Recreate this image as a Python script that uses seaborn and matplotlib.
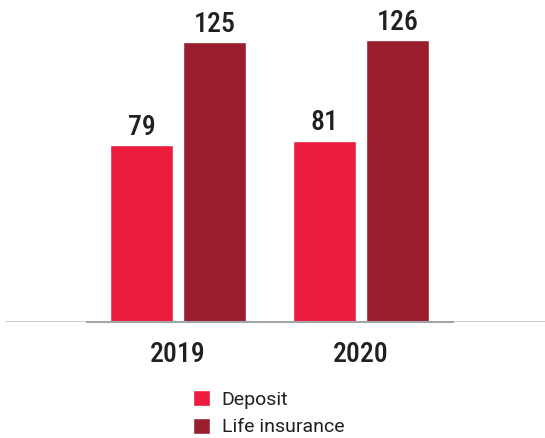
import matplotlib
matplotlib.use("Agg")
import matplotlib.pyplot as plt
import seaborn as sns
import pandas as pd

years = ["2019", "2020"]
deposit = [79, 81]
life_insurance = [125, 126]
series_names = ["Deposit", "Life insurance"]
palette = ["#EE1C3C", "#9A1E2E"]
text_color = "#231F20"

df = pd.DataFrame({
    "Year": years * 2,
    "Value": deposit + life_insurance,
    "Type": [series_names[0]] * len(years) + [series_names[1]] * len(years),
})

sns.set_theme(style="white")
plt.rcParams["font.family"] = ["Roboto Condensed", "DejaVu Sans"]

W, H, DPI = 545, 438, 100
fig = plt.figure(figsize=(W / DPI, H / DPI), dpi=DPI)
ax = fig.add_axes([0, (H - 322) / H, 1, 322 / H])

sns.barplot(data=df, x="Year", y="Value", hue="Type", palette=palette,
            width=0.8, gap=0.14, saturation=1, ax=ax, legend=True)

px_per_unit = 183.0
ax.set_xlim(-178 / px_per_unit, (W - 178) / px_per_unit)
ax.set_ylim(0, 322 / 2.24)

for cont in ax.containers:
    ax.bar_label(cont, fmt="%d", padding=3, fontsize=20, fontweight=500,
                 color=text_color)

# axis baseline: a long light rule plus the darker spine under the categories
ax.axhline(0, xmin=6 / W, xmax=1, color="#C4C4C6", lw=2, zorder=0)
for s in ["top", "right", "left"]:
    ax.spines[s].set_visible(False)
ax.spines["bottom"].set_bounds(-0.5, 1.5)
ax.spines["bottom"].set_color("#A3A4A7")
ax.spines["bottom"].set_linewidth(1.5)

ax.set_yticks([])
ax.set_xlabel("")
ax.set_ylabel("")
ax.tick_params(axis="x", length=0, pad=14)
for lbl in ax.get_xticklabels():
    lbl.set_fontsize(20)
    lbl.set_fontweight(500)
    lbl.set_color(text_color)

handles, labels = ax.get_legend_handles_labels()
ax.get_legend().remove()
leg = fig.legend(handles, labels, loc="upper left",
                 bbox_to_anchor=(193 / W, 1 - 390 / H),
                 frameon=False, borderpad=0, borderaxespad=0,
                 handlelength=0.88, handleheight=0.9, handletextpad=0.6,
                 labelspacing=0.45,
                 prop={"family": ["Roboto", "DejaVu Sans"], "weight": "normal", "size": 14})
for t in leg.get_texts():
    t.set_color(text_color)

fig.savefig("out.png", dpi=DPI)
